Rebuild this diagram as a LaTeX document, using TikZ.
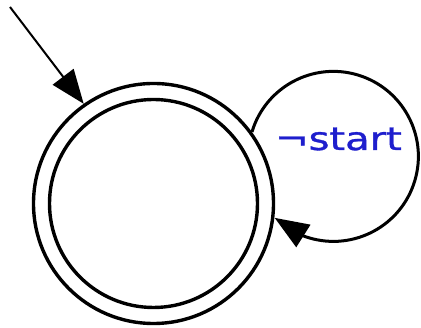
\documentclass[tikz,border=0pt]{standalone}
\usepackage{fontspec}
\usepackage{graphicx}
\usetikzlibrary{arrows.meta,bending}
\newfontfamily\labelfont[FakeBold=1]{DejaVu Sans}
\definecolor{lblblue}{RGB}{30,30,205}
\begin{document}
\begin{tikzpicture}[x=1pt,y=1pt,
  statecirc/.style={circle,draw,line width=3.4pt,inner sep=0pt},
  bigarrow/.style={-{Triangle[length=34pt,width=26pt]}},
  looplabel/.style={anchor=base,text=lblblue,inner sep=0pt,font=\labelfont\fontsize{32}{36}\selectfont}]
\useasboundingbox (0,0) rectangle (421,328);
\node[statecirc,minimum size=240pt] (q) at (153.5,124.5) {};
\node[statecirc,minimum size=208pt] (qin) at (153.5,124.5) {};
\coordinate (init) at (10,321);
\draw[bigarrow,line width=2pt] (init) -- (q.125);
\draw[bigarrow,line width=3pt] (q.36) arc[start angle=163.3, end angle=-133.7, radius=85];
\node[looplabel] (lbl) at (338.5,178) {\scalebox{1.25}[1]{¬start}};
\end{tikzpicture}
\end{document}
